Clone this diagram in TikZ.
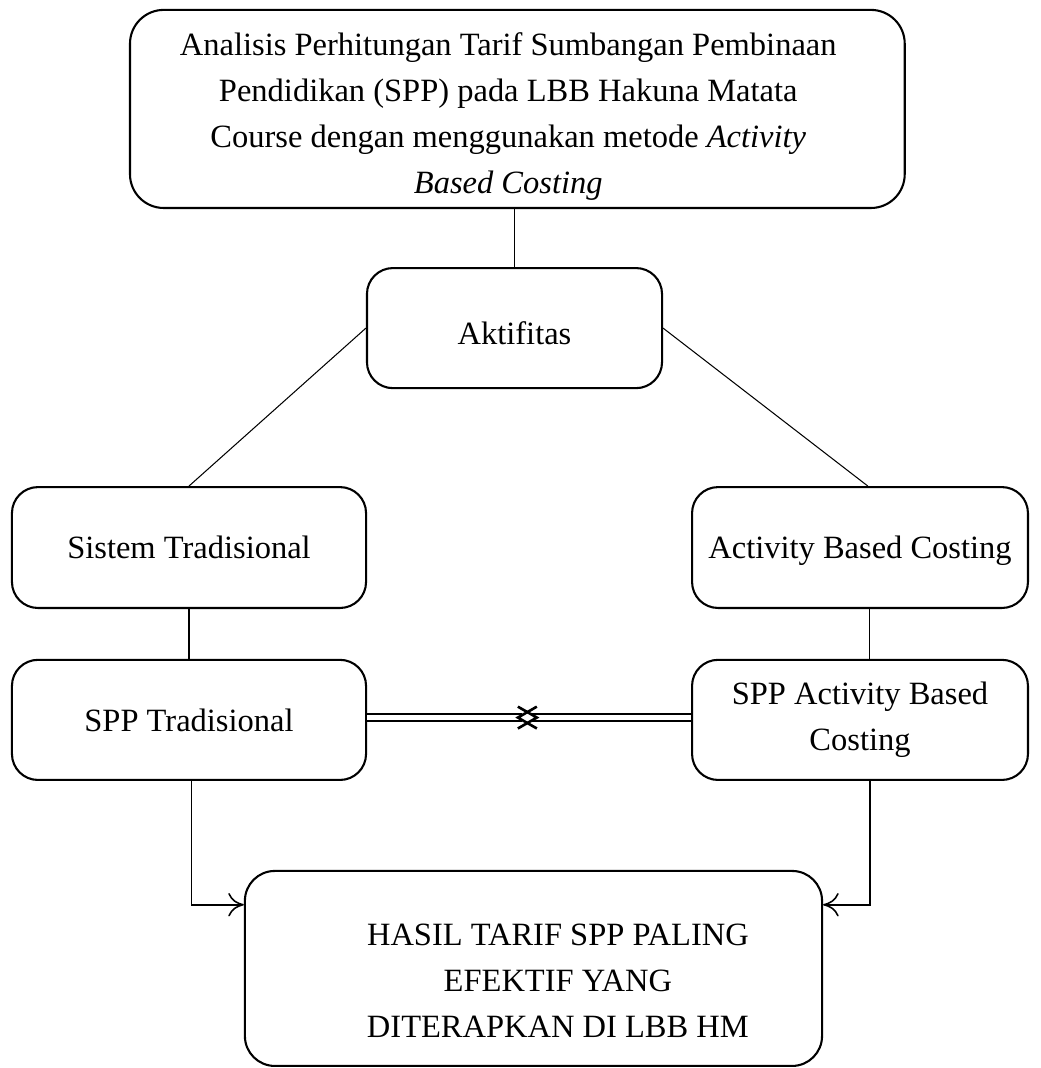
\documentclass[tikz,border=0pt]{standalone}
\usepackage{fontspec}
\setmainfont{Liberation Serif}
\usetikzlibrary{arrows.meta,positioning}

\tikzset{kotak/.style={draw=black,line width=0.8pt,rounded corners=10pt,align=center,inner sep=0pt},
         garis/.style={line width=0.4pt},
         panah/.style={line width=0.6pt,-{To[length=6pt,width=9pt]}},
         ganda/.style={double,double distance=1.8pt,line width=0.9pt},
         kepala/.style={line width=1pt,miter limit=4}}

\begin{document}
\begin{tikzpicture}[x=1pt,y=-1pt,font=\fontsize{12.5}{17.7}\selectfont]
            \useasboundingbox (0,0) rectangle (400.4,410.8);
            % kotak-kotak
            \node[kotak,rounded corners=13pt,minimum width=298pt,minimum height=76.2pt] (judul) at (199,41.9) {};
            \node[align=center] (judulteks) at ([shift={(-3.5,2.8)}]judul.center)
            {Analisis Perhitungan Tarif Sumbangan Pembinaan\\ Pendidikan (SPP) pada LBB Hakuna Matata\\
            Course dengan menggunakan metode \textit{Activity}\\ \textit{Based Costing}};
            \node[kotak,minimum width=113.5pt,minimum height=46.2pt,text height=12.7pt,text depth=0pt] (aktif) at (197.9,126.2) {Aktifitas};
            \node[kotak,minimum width=136.2pt,minimum height=46.5pt] (sistem) at (72.7,210.6) {Sistem Tradisional};
            \node[kotak,minimum width=129.2pt,minimum height=46.5pt,text depth=0pt] (abc) at (330.8,210.6) {Activity Based Costing};
            \node[kotak,minimum width=136.2pt,minimum height=46.2pt] (spptrad) at (72.7,276.9) {SPP Tradisional};
            \node[kotak,minimum width=129.2pt,minimum height=46.2pt] (sppabc) at (330.8,276.9) {SPP Activity Based\\ Costing};
            \node[kotak,rounded corners=11.5pt,minimum width=222pt,minimum height=75pt] (hasil) at (205.2,372.5) {};
            \node[align=center] (hasilteks) at ([shift={(9.4,4.8)}]hasil.center)
            {HASIL TARIF SPP PALING\\ EFEKTIF YANG\\ DITERAPKAN DI LBB HM};
            % garis
            \draw[garis] (aktif.north) -- (aktif.north |- judul.south);
            \draw[garis] (aktif.west) -- (sistem.north);
            \draw[garis] (aktif.east) -- ([xshift=3pt]abc.north);
            \draw[garis] (sistem.south) -- (spptrad.north);
            \draw[garis] ([xshift=3.8pt]abc.south) -- ([xshift=3.8pt]sppabc.north);
            % perbandingan (panah ganda)
            \coordinate (ujungkiri) at (206.5,276);
            \coordinate (ujungkanan) at (199.2,276);
            \draw[ganda] (spptrad.east |- ujungkiri) -- ([xshift=-5.6pt]ujungkiri);
            \draw[ganda] (sppabc.west |- ujungkanan) -- ([xshift=5.6pt]ujungkanan);
            \draw[kepala] ([shift={(-7.3,-4.2)}]ujungkiri) -- (ujungkiri) -- ([shift={(-7.3,4.2)}]ujungkiri);
            \draw[kepala] ([shift={(7.3,-4.2)}]ujungkanan) -- (ujungkanan) -- ([shift={(7.3,4.2)}]ujungkanan);
            % ke hasil
            \draw[panah] ([xshift=1pt]spptrad.south) |- (hasil.west |- 0,348);
            \draw[panah] ([xshift=3.8pt]sppabc.south) |- (hasil.east |- 0,348);
      \end{tikzpicture}
\end{document}
